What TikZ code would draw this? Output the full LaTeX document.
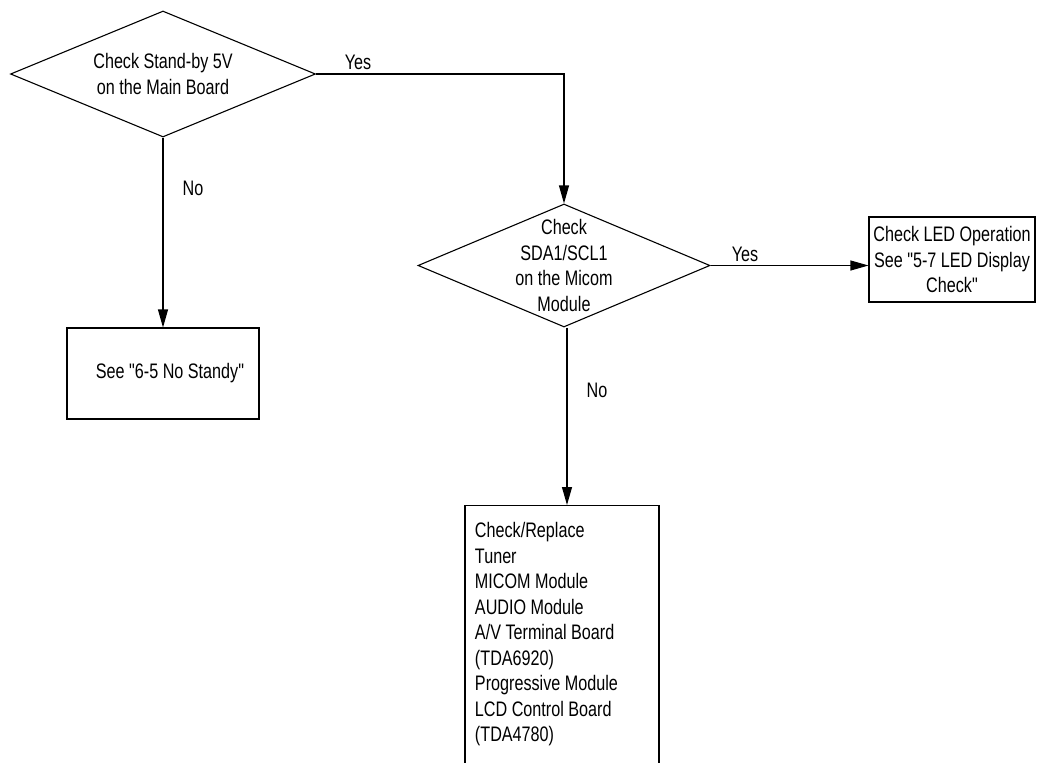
\documentclass[tikz,border=0pt]{standalone}
\usepackage{fontspec}
\setmainfont[FakeStretch=0.77,Ligatures=TeXOff]{Liberation Sans}
\usetikzlibrary{shapes,positioning,arrows.meta}

\begin{document}
\begin{tikzpicture}[x=1pt,y=1pt,
        every node/.style={font=\fontsize{21}{25.5}\selectfont},
        decision/.style={diamond, draw, line width=1.1pt, inner sep=0pt},
        box/.style={rectangle, draw, line width=1.1pt},
        arr/.style={-{Triangle[length=18pt,width=10pt]}, line width=1.1pt}]
            \useasboundingbox (0,0) rectangle (1037,-763);

            \node[decision, minimum width=305, minimum height=126,
                label={[align=center]center:Check Stand-by 5V\\on the Main Board}] (stb) at (163,-74) {};
            \node[decision, minimum width=292, minimum height=123,
                label={[align=center]center:Check\\SDA1/SCL1\\on the Micom\\Module}] (mic) at (564,-265.5) {};

            \node[box, minimum width=192, minimum height=91,
                label={[xshift=7pt]center:See "6-5 No Standy"}] (nostby) at (163,-373.5) {};
            \node[box, minimum width=166, minimum height=85, align=center] (led) at (952,-259.5)
                {Check LED Operation\\See "5-7 LED Display\\Check"};
            \node[box, anchor=north, minimum width=194, minimum height=320,
                label={[align=left, anchor=north west, xshift=7pt, yshift=-14pt]north west:Check/Replace\\Tuner\\MICOM Module\\AUDIO Module\\A/V Terminal Board\\(TDA6920)\\Progressive Module\\LCD Control Board\\(TDA4780)}] (rep) at (562,-505) {};

            \draw[arr] (stb.east) -| (mic.north);
            \draw[arr] (stb.south) -- (nostby.north);
            \draw[arr] (mic.east) -- (mic.east -| led.west);
            \draw[arr] ([xshift=3pt]mic.south) -- ([xshift=3pt]mic.south |- rep.north);

            \node (yes1) at (358,-62) {Yes};
            \node (no1) at (193,-188) {No};
            \node (yes2) at (745,-254) {Yes};
            \node (no2) at (597,-390) {No};
        \end{tikzpicture}
\end{document}
